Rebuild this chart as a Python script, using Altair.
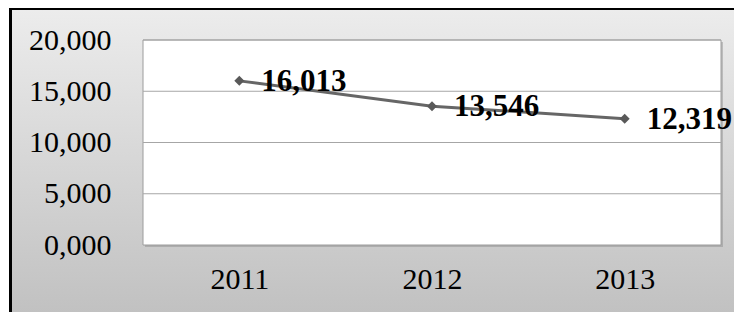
import altair as alt
import pandas as pd

# ---- data ----
years = ["2011", "2012", "2013"]
values = [16013, 13546, 12319]
value_labels = ["16,013", "13,546", "12,319"]
y_ticks = [0, 5000, 10000, 15000, 20000]
y_tick_labels = ["0,000", "5,000", "10,000", "15,000", "20,000"]

df = pd.DataFrame({"year": years, "value": values, "label": value_labels})
grid_df = pd.DataFrame({"value": y_ticks[1:]})
one = pd.DataFrame({"k": [0]})

W, H = 578, 205
PL, PT, PR, PB = 135, 32, 13, 67
FONT = "Liberation Serif"

label_expr = " : ".join(
    [f"datum.value == {t} ? '{l}'" for t, l in zip(y_ticks, y_tick_labels)]
) + " : ''"

yscale = alt.Scale(domain=[0, 20000], nice=False, zero=True)
xscale = alt.Scale(type="point", padding=0.5)

y_axis = alt.Axis(title=None, ticks=False, tickSize=0, domain=False,
                  grid=False, values=y_ticks, labelExpr=label_expr,
                  labelFont=FONT, labelFontSize=30,
                  labelColor="#000000", labelPadding=32, zindex=1)

bg = alt.Chart(one).mark_rect(
    color=alt.LinearGradient(
        gradient="linear",
        stops=[alt.GradientStop(color="#ececec", offset=0),
               alt.GradientStop(color="#c0c0c0", offset=1)],
        x1=0, x2=0, y1=0, y2=1,
    )
).encode(
    x=alt.value(-131), x2=alt.value(W + PR + 30),
    y=alt.value(-30), y2=alt.value(H + PB + 8),
)

border = alt.Chart(one).mark_rect(
    fillOpacity=0, stroke="#000000", strokeWidth=3
).encode(
    x=alt.value(-132.5), x2=alt.value(W + PR + 60),
    y=alt.value(-31.5), y2=alt.value(H + PB + 60),
)

shadow = alt.Chart(one).mark_rect(color="#8a8a8a", opacity=0.45).encode(
    x=alt.value(2), x2=alt.value(W + 2), y=alt.value(2), y2=alt.value(H + 2)
)

plot_bg = alt.Chart(one).mark_rect(
    fill="#ffffff", stroke="#9c9c9c", strokeWidth=1
).encode(
    x=alt.value(0), x2=alt.value(W), y=alt.value(0), y2=alt.value(H)
)

grid = alt.Chart(grid_df).mark_rule(color="#a6a6a6", strokeWidth=1).encode(
    y=alt.Y("value:Q", scale=yscale, axis=y_axis),
    x=alt.value(0), x2=alt.value(W),
)

base = alt.Chart(df).encode(
    x=alt.X("year:O", scale=xscale, sort=years,
            axis=alt.Axis(title=None, ticks=False, tickSize=0, domain=False,
                          grid=False, labelFont=FONT, labelFontSize=30,
                          labelColor="#000000", labelPadding=19,
                          labelAngle=0, zindex=1)),
    y=alt.Y("value:Q", scale=yscale, axis=y_axis),
)

line = base.mark_line(color="#666666", strokeWidth=3)
points = base.mark_point(shape="diamond", filled=True, color="#595959",
                         size=100, opacity=1)
texts = base.mark_text(align="left", baseline="middle", dx=22, dy=1,
                       font=FONT, fontSize=31, fontWeight="bold",
                       color="#000000").encode(text="label:N")

chart = alt.layer(bg, border, shadow, plot_bg, grid, line, points, texts).properties(
    width=W, height=H,
    autosize=alt.AutoSizeParams(type="none"),
    padding={"left": PL, "top": PT, "right": PR, "bottom": PB},
    background="#ffffff",
).configure_view(stroke=None)

chart.save("out.html", embed_options={"renderer": "svg", "actions": False})
